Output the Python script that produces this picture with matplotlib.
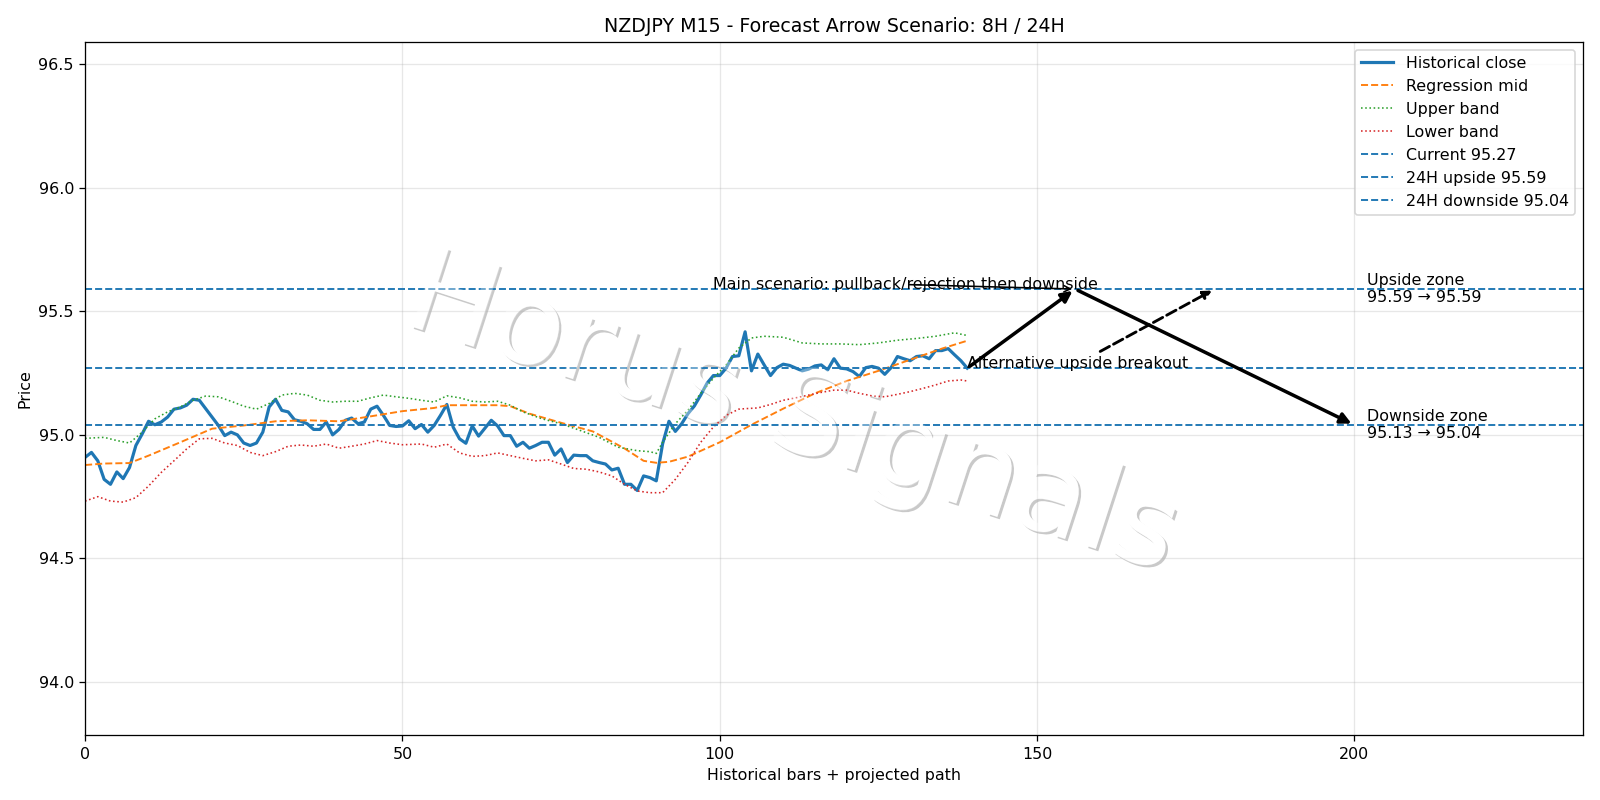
import matplotlib.pyplot as plt
import matplotlib.patheffects as pe

# historical closes, one per bar (x = 0..139)
close = [
    94.909, 94.929, 94.895, 94.82, 94.80, 94.85, 94.823, 94.868, 94.957, 95.004,
    95.055, 95.041, 95.052, 95.072, 95.104, 95.109, 95.12, 95.144, 95.14, 95.106,
    95.072, 95.038, 94.997, 95.011, 95.0, 94.967, 94.957, 94.967, 95.011, 95.113,
    95.144, 95.099, 95.093, 95.061, 95.055, 95.045, 95.022, 95.022, 95.052, 95.0,
    95.022, 95.059, 95.068, 95.045, 95.052, 95.104, 95.116, 95.079, 95.038, 95.034,
    95.036, 95.057, 95.025, 95.042, 95.011, 95.038, 95.079, 95.123, 95.031, 94.984,
    94.966, 95.036, 94.995, 95.027, 95.059, 95.036, 94.997, 94.997, 94.954, 94.97,
    94.946, 94.957, 94.97, 94.97, 94.918, 94.943, 94.888, 94.918, 94.916, 94.916,
    94.895, 94.888, 94.882, 94.858, 94.865, 94.80, 94.80, 94.775, 94.834, 94.827,
    94.814, 94.964, 95.055, 95.014, 95.045, 95.086, 95.117, 95.161, 95.209, 95.24,
    95.24, 95.27, 95.317, 95.32, 95.417, 95.259, 95.327, 95.283, 95.24, 95.272,
    95.286, 95.281, 95.27, 95.259, 95.266, 95.279, 95.283, 95.263, 95.308, 95.27,
    95.267, 95.256, 95.236, 95.272, 95.277, 95.27, 95.245, 95.272, 95.317, 95.308,
    95.3, 95.317, 95.32, 95.308, 95.341, 95.341, 95.349, 95.324, 95.3, 95.27,
]

mid_x = [0, 3, 7, 10, 15, 20, 25, 30, 35, 40, 45, 50, 55, 57, 60, 65, 67, 70, 75,
         80, 85, 88, 90, 92, 95, 100, 105, 110, 115, 120, 125, 130, 135, 139]
mid_y = [94.878, 94.884, 94.886, 94.916, 94.97, 95.025, 95.038, 95.055, 95.059,
         95.055, 95.075, 95.096, 95.109, 95.12, 95.12, 95.12, 95.116, 95.086,
         95.049, 95.014, 94.945, 94.895, 94.887, 94.891, 94.912, 94.97, 95.041,
         95.106, 95.168, 95.218, 95.259, 95.304, 95.349, 95.381]

upper_x = [0, 3, 5, 7, 9, 11, 13, 15, 17, 19, 21, 23, 25, 27, 29, 31, 33, 35, 37,
           39, 41, 43, 45, 47, 49, 51, 53, 55, 57, 59, 61, 63, 65, 67, 69, 72, 75,
           78, 81, 84, 87, 89, 90, 91, 93, 95, 97, 99, 101, 103, 105, 107, 110,
           113, 116, 119, 122, 125, 128, 131, 134, 137, 139]
upper_y = [94.986, 94.99, 94.977, 94.967, 95.011, 95.065, 95.093, 95.113, 95.14,
           95.157, 95.154, 95.136, 95.116, 95.104, 95.127, 95.161, 95.168, 95.161,
           95.14, 95.133, 95.136, 95.136, 95.15, 95.161, 95.154, 95.148, 95.14,
           95.133, 95.158, 95.15, 95.136, 95.133, 95.136, 95.12, 95.093, 95.065,
           95.045, 95.018, 94.99, 94.95, 94.936, 94.932, 94.925, 94.97, 95.045,
           95.1, 95.168, 95.229, 95.283, 95.351, 95.392, 95.399, 95.395, 95.372,
           95.368, 95.368, 95.365, 95.372, 95.383, 95.39, 95.399, 95.413, 95.402]

lower_x = [0, 2, 4, 6, 8, 10, 12, 14, 16, 18, 20, 22, 24, 26, 28, 30, 32, 34, 36,
           38, 40, 42, 44, 46, 48, 50, 53, 55, 57, 59, 61, 63, 65, 67, 69, 71, 73,
           75, 77, 79, 81, 83, 85, 87, 89, 91, 93, 95, 97, 99, 101, 103, 104, 106,
           108, 110, 112, 114, 116, 118, 120, 122, 124, 126, 128, 130, 132, 134,
           136, 138, 139]
lower_y = [94.732, 94.75, 94.732, 94.728, 94.746, 94.793, 94.848, 94.895, 94.943,
           94.984, 94.986, 94.967, 94.957, 94.929, 94.916, 94.932, 94.954, 94.959,
           94.954, 94.963, 94.946, 94.954, 94.963, 94.977, 94.967, 94.96, 94.963,
           94.95, 94.963, 94.927, 94.913, 94.916, 94.927, 94.916, 94.905, 94.895,
           94.899, 94.882, 94.864, 94.861, 94.85, 94.834, 94.80, 94.773, 94.766,
           94.766, 94.82, 94.889, 94.97, 95.032, 95.079, 95.104, 95.106, 95.109,
           95.123, 95.14, 95.15, 95.161, 95.172, 95.181, 95.181, 95.168, 95.158,
           95.154, 95.164, 95.175, 95.188, 95.202, 95.218, 95.222, 95.218]

current = 95.27
up_24h = 95.59
down_24h = 95.04
down_zone_top = 95.13

# projected path: last bar -> pullback high -> downside target
path_x = [139, 156, 200]
path_y = [current, up_24h, down_24h]
alt_x = 178

fig, ax = plt.subplots(figsize=(14, 7), dpi=800 / 7)

ax.plot(range(len(close)), close, color="tab:blue", lw=2, label="Historical close")
ax.plot(mid_x, mid_y, color="tab:orange", ls="--", lw=1.2, label="Regression mid")
ax.plot(upper_x, upper_y, color="tab:green", ls=":", lw=1, label="Upper band")
ax.plot(lower_x, lower_y, color="tab:red", ls=":", lw=1, label="Lower band")

ax.axhline(current, color="tab:blue", ls="--", lw=1.2, label=f"Current {current:.2f}")
ax.axhline(up_24h, color="tab:blue", ls="--", lw=1.2, label=f"24H upside {up_24h:.2f}")
ax.axhline(down_24h, color="tab:blue", ls="--", lw=1.2, label=f"24H downside {down_24h:.2f}")

# main scenario arrows
for i in range(len(path_x) - 1):
    ax.annotate("", xy=(path_x[i + 1], path_y[i + 1]), xytext=(path_x[i], path_y[i]),
                arrowprops=dict(arrowstyle="-|>", lw=2.2, color="black", mutation_scale=14))

ax.annotate("Main scenario: pullback/rejection then downside",
            xy=(path_x[1], path_y[1]), xytext=(99, up_24h), fontsize=10,
            arrowprops=dict(arrowstyle="->", lw=1, color="black", patchA=None))

ax.annotate("Alternative upside breakout", xy=(alt_x, up_24h), xytext=(path_x[0], current),
            fontsize=10,
            arrowprops=dict(arrowstyle="-|>", lw=1.8, ls="--", color="black", mutation_scale=11))

ax.text(202, up_24h, f"Upside zone\n{up_24h:.2f} \u2192 {up_24h:.2f}", va="center", fontsize=10)
ax.text(202, down_24h, f"Downside zone\n{down_zone_top:.2f} \u2192 {down_24h:.2f}", va="center", fontsize=10)

ax.set_xlim(0, 236)
ax.set_ylim(93.784, 96.591)
ax.set_title("NZDJPY M15 - Forecast Arrow Scenario: 8H / 24H")
ax.set_xlabel("Historical bars + projected path")
ax.set_ylabel("Price")
ax.grid(True, alpha=0.3)
ax.legend(loc="upper right")

# watermark: embossed white text under the data, light veil on top
wm = dict(fontsize=74, color="white", rotation=-18, ha="center", va="center")
ax.text(0.495, 0.48, "Horus Signals", transform=fig.transFigure, zorder=1,
        path_effects=[pe.withSimplePatchShadow(offset=(1.5, -1.5))], **wm)
fig.text(0.495, 0.48, "Horus Signals", alpha=0.35, **wm)

fig.tight_layout()
fig.savefig("out.png")
